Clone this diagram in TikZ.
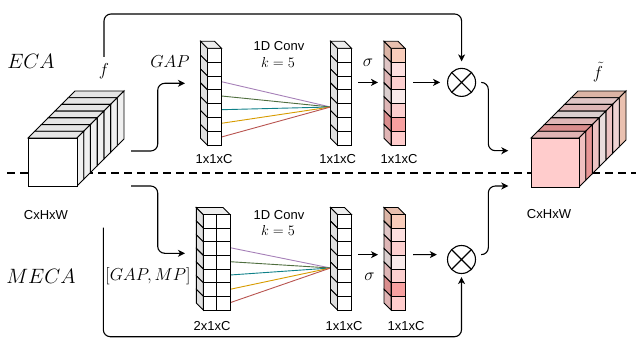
\documentclass[tikz,border=0pt]{standalone}
\usepackage{fontspec}
\setmainfont{Liberation Sans}
\usetikzlibrary{arrows.meta}
\definecolor{s1}{HTML}{F9CDBB}
\definecolor{s2}{HTML}{FDE0E0}
\definecolor{s3}{HTML}{FCCFCF}
\definecolor{s4}{HTML}{F8EAEA}
\definecolor{s5}{HTML}{FCCFCF}
\definecolor{s6}{HTML}{F7A0A0}
\definecolor{s7}{HTML}{FFCCCC}
\definecolor{cpur}{HTML}{A680B8}
\definecolor{cgrn}{HTML}{4F6E3F}
\definecolor{ctel}{HTML}{0E8088}
\definecolor{corg}{HTML}{D79B00}
\definecolor{cred}{HTML}{B85450}
% column: #1 x front-left, #2 y top, #3 cell width, #4 cell height, #5 number of cells across, #6 colours
\newcommand{\vcol}[6]{%
  \foreach \c [count=\i] in {#6}{%
    \pgfmathsetmacro\yy{#2+(\i-1)*#4}%
    \filldraw[face, fill=\c!88!black] (#1,\yy) -- ++(-7,-7) -- ++(0,#4) -- ++(7,7) -- cycle;
    \foreach \k in {1,...,#5}{%
      \filldraw[face, fill=\c] ({#1+(\k-1)*#3},\yy) rectangle ++(#3,#4);
    }
    \ifnum\i=1 \filldraw[face, fill=\c!93!black] (#1,#2) -- ++(-7,-7) -- ++(#5*#3,0) -- ++(7,7) -- cycle;\fi
  }%
}
\begin{document}
\begin{tikzpicture}[x=1pt,y=-1pt,
  lbl/.style={inner sep=0pt, font=\fontsize{13}{15}\selectfont},
  bigm/.style={inner sep=0pt, font=\fontsize{20}{24}\selectfont},
  midm/.style={inner sep=0pt, font=\fontsize{17}{20}\selectfont},
  smm/.style={inner sep=0pt, font=\fontsize{14}{17}\selectfont},
  conn/.style={line width=1.1pt, rounded corners=7pt},
  arr/.style={conn, -{Stealth[length=7pt,width=7pt,inset=2pt]}},
  face/.style={draw=black, line width=0.9pt},
  mulnode/.style={circle, draw, line width=1.1pt, minimum size=28pt, inner sep=0pt,
    path picture={\draw[line width=1.1pt]
      (path picture bounding box.south west) -- (path picture bounding box.north east)
      (path picture bounding box.north west) -- (path picture bounding box.south east);}}
]
\useasboundingbox (0,0) rectangle (642,339);

% separator
\draw[line width=2pt, dash pattern=on 8pt off 5pt] (7,172.7) -- (636,172.7);

% input cube
\foreach \j in {6,5,...,0}{
  \pgfmathsetmacro\ox{28+\j*6.714}
  \pgfmathsetmacro\oy{138-\j*6.714}
  \filldraw[face, fill=white!90!black] (\ox,\oy) -- ++(6.714,-6.714) -- ++(49,0) -- ++(-6.714,6.714) -- cycle;
  \filldraw[face, fill=white!94!black] (\ox+49,\oy) -- ++(6.714,-6.714) -- ++(0,48) -- ++(-6.714,6.714) -- cycle;
  \filldraw[face, fill=white] (\ox,\oy) rectangle ++(49,48);
}

% output cube
\foreach \j/\c in {6/s1,5/s2,4/s3,3/s4,2/s5,1/s6,0/s7}{
  \pgfmathsetmacro\ox{531+\j*6.714}
  \pgfmathsetmacro\oy{138-\j*6.714}
  \filldraw[face, fill=\c!88!black] (\ox,\oy) -- ++(6.714,-6.714) -- ++(48,0) -- ++(-6.714,6.714) -- cycle;
  \filldraw[face, fill=\c!94!black] (\ox+48,\oy) -- ++(6.714,-6.714) -- ++(0,49) -- ++(-6.714,6.714) -- cycle;
  \filldraw[face, fill=\c] (\ox,\oy) rectangle ++(48,49);
}

% convolution lines
\coordinate (conv1) at (330.5,107);
\coordinate (conv2) at (330.5,268);
\foreach \yy/\cc in {81.7/cpur,96/cgrn,109.7/ctel,123.3/corg,137/cred}
  \draw[\cc, line width=0.9pt] (221.5,\yy) -- (conv1);
\foreach \yy/\cc in {247.7/cpur,261.7/cgrn,275/ctel,289.3/corg,302.7/cred}
  \draw[\cc, line width=0.9pt] (230.1,\yy) -- (conv2);

% columns
\vcol{207.5}{48.3}{14}{13.86}{1}{white,white,white,white,white,white,white}
\vcol{337.5}{48.3}{14}{13.86}{1}{white,white,white,white,white,white,white}
\vcol{391}{48.3}{14}{13.86}{1}{s1,s2,s3,s4,s5,s6,s7}
\vcol{203.3}{214.5}{13.4}{13.64}{2}{white,white,white,white,white,white,white}
\vcol{337.5}{214.5}{14}{13.64}{1}{white,white,white,white,white,white,white}
\vcol{391}{214.5}{14}{13.64}{1}{s1,s2,s3,s4,s5,s6,s7}

% multiply nodes
\node[mulnode] (mul1) at (461.6,82.4) {};
\node[mulnode] (mul2) at (461.5,259.5) {};

% labels
\node[bigm] (eca) at (31,61.5) {$ECA$};
\node[bigm] (meca) at (41,276) {$MECA$};
\node[midm] (gap) at (170,62) {$GAP$};
\node[midm] (gapmp) at (148,276) {$[GAP,MP]$};
\node[inner sep=0pt, font=\fontsize{18}{20}\selectfont] (flab) at (104,71.5) {$f$};
\node[inner sep=0pt, font=\fontsize{18}{20}\selectfont] (ftl) at (598,72) {$\tilde{f}$};
\node[lbl] (conv1t) at (279,46) {1D Conv};
\node[smm] (k1) at (278,62.5) {$k=5$};
\node[lbl] (conv2t) at (279,215) {1D Conv};
\node[smm] (k2) at (278,230) {$k=5$};
\node[inner sep=0pt, font=\fontsize{16}{18}\selectfont] (sig1) at (368,63) {$\sigma$};
\node[inner sep=0pt, font=\fontsize{16}{18}\selectfont] (sig2) at (369.5,277) {$\sigma$};
\node[lbl] (dimin) at (46,215) {CxHxW};
\node[lbl] (dimout) at (549,214.5) {CxHxW};
\node[lbl] (la1) at (214,159) {1x1xC};
\node[lbl] (lb1) at (337.7,159) {1x1xC};
\node[lbl] (ls1) at (399,159) {1x1xC};
\node[lbl] (la2) at (212,326) {2x1xC};
\node[lbl] (lb2) at (344,326) {1x1xC};
\node[lbl] (ls2) at (406,326) {1x1xC};

% connector coordinates
\coordinate (cubeR1) at (131,151);
\coordinate (cubeR2) at (131,186);
\coordinate (gapIn) at (185,83.3);
\coordinate (gap2In) at (185,253.3);
\coordinate (fline) at (104,57);
\coordinate (bstart) at (103.3,227.7);
\coordinate (b1r) at (358,82.4);
\coordinate (s1l) at (378,82.4);
\coordinate (s1r) at (413,82.4);
\coordinate (b2r) at (358,254.7);
\coordinate (s2l) at (378,254.7);
\coordinate (s2r) at (413,254.7);
\coordinate (out1) at (508.3,150.7);
\coordinate (out2) at (508.3,186);

% connectors
\draw[arr] (cubeR1) -- (157.7,151) |- (gapIn);
\draw[arr] (cubeR2) -- (157.7,186) |- (gap2In);
\draw[arr, shorten >=6.5pt] (fline) -- (104,14) -| (mul1.north);
\draw[arr, shorten >=3pt] (bstart) -- (103.3,336.7) -| (mul2.south);
\draw[arr] (b1r) -- (s1l);
\draw[arr, shorten >=7pt] (s1r) -- (mul1.west);
\draw[arr] (b2r) -- (s2l);
\draw[arr, shorten >=11pt] (s2r) -- (mul2.160);
\draw[arr, shorten <=6pt] (mul1.east) -- (488.3,82.4) |- (out1);
\draw[arr, shorten <=6pt] (mul2.20) -- (488.3,254.7) |- (out2);
\end{tikzpicture}
\end{document}
